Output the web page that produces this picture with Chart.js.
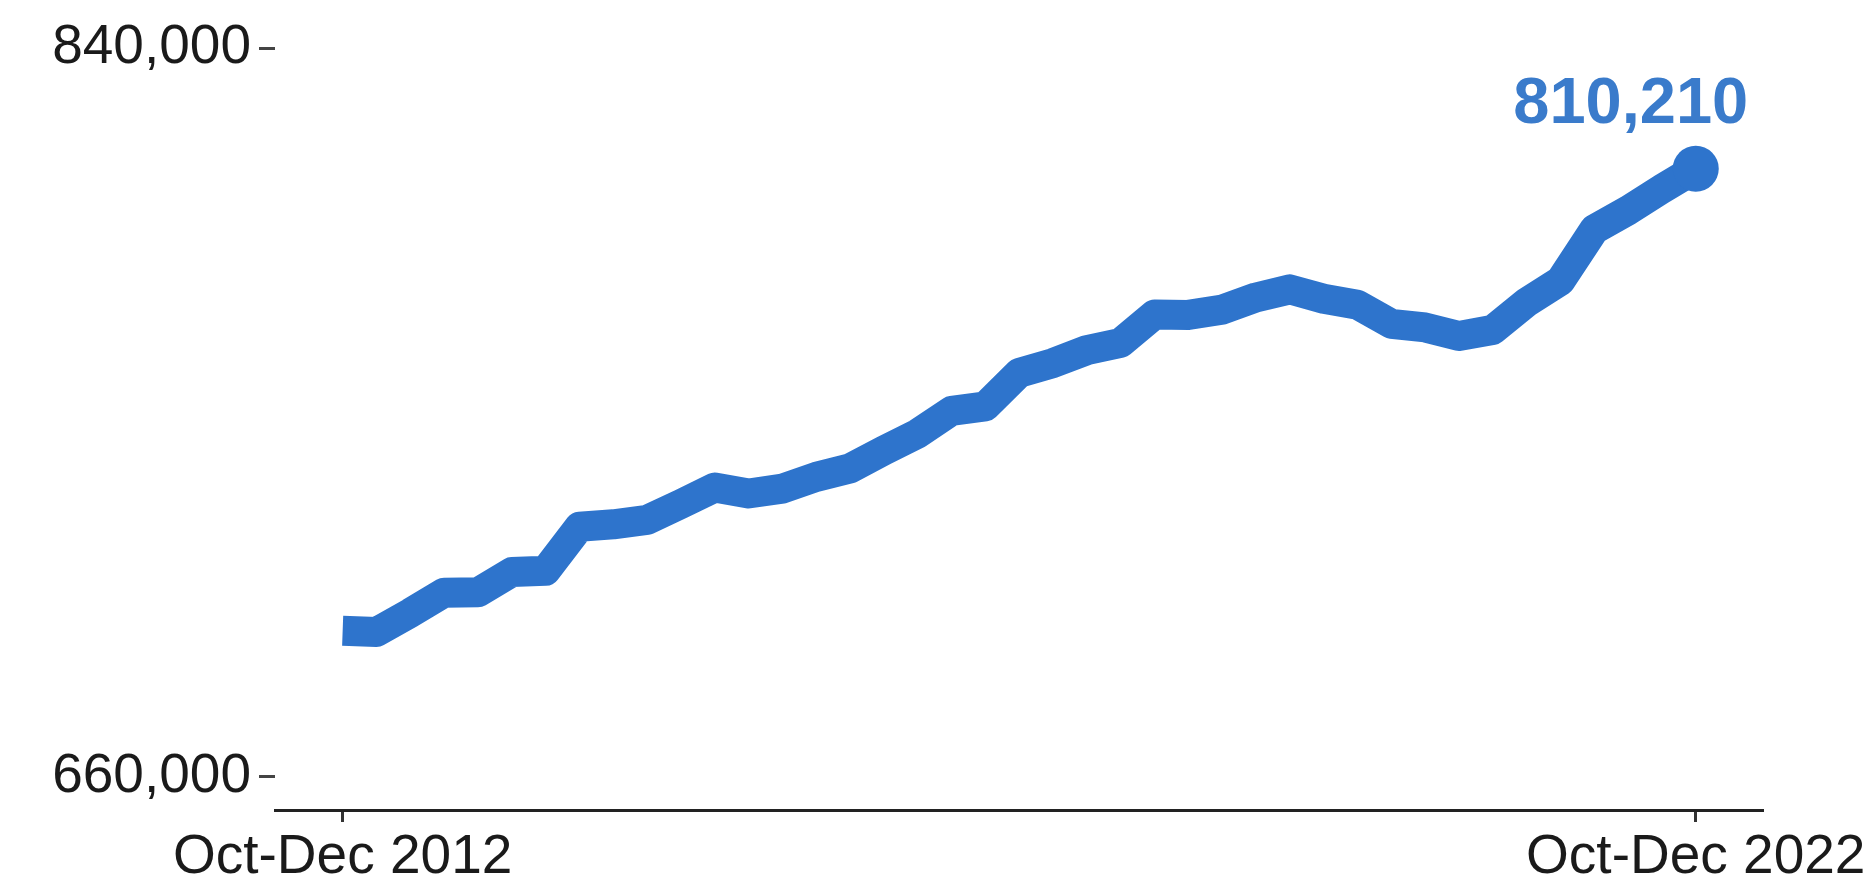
<!DOCTYPE html>
<html>
<head>
<meta charset="utf-8">
<script src="https://cdn.jsdelivr.net/npm/chart.js@4"></script>
<style>
  html, body { margin: 0; padding: 0; background: #fff; }
  #wrap { width: 1873px; height: 887px; position: relative; }
</style>
</head>
<body>
<div id="wrap"><canvas id="lineChart"></canvas></div>
<script>
const quarters = [
  'Oct-Dec 2012',
  'Jan-Mar 2013', 'Apr-Jun 2013', 'Jul-Sep 2013', 'Oct-Dec 2013',
  'Jan-Mar 2014', 'Apr-Jun 2014', 'Jul-Sep 2014', 'Oct-Dec 2014',
  'Jan-Mar 2015', 'Apr-Jun 2015', 'Jul-Sep 2015', 'Oct-Dec 2015',
  'Jan-Mar 2016', 'Apr-Jun 2016', 'Jul-Sep 2016', 'Oct-Dec 2016',
  'Jan-Mar 2017', 'Apr-Jun 2017', 'Jul-Sep 2017', 'Oct-Dec 2017',
  'Jan-Mar 2018', 'Apr-Jun 2018', 'Jul-Sep 2018', 'Oct-Dec 2018',
  'Jan-Mar 2019', 'Apr-Jun 2019', 'Jul-Sep 2019', 'Oct-Dec 2019',
  'Jan-Mar 2020', 'Apr-Jun 2020', 'Jul-Sep 2020', 'Oct-Dec 2020',
  'Jan-Mar 2021', 'Apr-Jun 2021', 'Jul-Sep 2021', 'Oct-Dec 2021',
  'Jan-Mar 2022', 'Apr-Jun 2022', 'Jul-Sep 2022', 'Oct-Dec 2022'
]

const values = [
  696100, 695800, 700500, 705500, 705600, 710600, 710900, 721800, 722400,
  723500, 727400, 731500, 730000, 731200, 734100, 736200, 740600, 744800,
  750400, 751500, 759800, 762200, 765400, 767200, 774200, 774100, 775400,
  778400, 780400, 778100, 776600, 771900, 771000, 768900, 770400, 777200,
  782500, 795200, 799900, 805200, 810210
]

const tickIndexes = [0, 40]
const yTicks = [660000, 840000]

const blue = '#2E74CC'
const last = values.length - 1

const endLabel = {
  id: 'endLabel',
  afterDatasetsDraw(chart) {
    const x = chart.scales.x.getPixelForValue(last)
    const y = chart.scales.y.getPixelForValue(values[last])
    const ctx = chart.ctx
    ctx.save()
    ctx.fillStyle = '#3A7BCB'
    ctx.font = 'bold 65px "Liberation Sans", Arial, sans-serif'
    ctx.textAlign = 'center'
    ctx.textBaseline = 'alphabetic'
    ctx.fillText(values[last].toLocaleString('en-US'), x - 65, y - 46)
    ctx.restore()
  }
}

new Chart(document.getElementById('lineChart'), {
  type: 'line',
  data: {
    datasets: [{
      data: values.map((v, i) => ({ x: i, y: v })),
      borderColor: blue,
      backgroundColor: blue,
      borderWidth: 30,
      borderJoinStyle: 'round',
      borderCapStyle: 'butt',
      tension: 0,
      pointRadius: ctx => ctx.dataIndex === last ? 23 : 0,
      pointHoverRadius: ctx => ctx.dataIndex === last ? 23 : 0,
      pointBorderWidth: 0,
      pointBackgroundColor: blue
    }]
  },
  options: {
    responsive: true,
    maintainAspectRatio: false,
    animation: false,
    devicePixelRatio: 1,
    layout: { padding: { top: 48, right: 101, bottom: 0, left: 0 } },
    plugins: { legend: { display: false }, tooltip: { enabled: false } },
    scales: {
      x: {
        type: 'linear',
        min: -2,
        max: 42,
        afterBuildTicks: scale => { scale.ticks = tickIndexes.map(v => ({ value: v })) },
        afterFit: scale => { scale.height = 77 },
        ticks: {
          autoSkip: false,
          maxRotation: 0,
          padding: 3,
          color: '#1a1a1a',
          font: { family: '"Liberation Sans", Arial, sans-serif', size: 55 },
          callback: value => quarters[value]
        },
        grid: {
          drawOnChartArea: false,
          tickLength: 12,
          tickColor: '#333',
          tickWidth: 3
        },
        border: { display: true, color: '#222', width: 3 }
      },
      y: {
        min: 651850,
        max: 840000,
        afterBuildTicks: scale => { scale.ticks = yTicks.map(v => ({ value: v })) },
        afterFit: scale => { scale.width = 275 },
        ticks: {
          padding: 8,
          color: '#1a1a1a',
          font: { family: '"Liberation Sans", Arial, sans-serif', size: 55 },
          callback: value => value.toLocaleString('en-US')
        },
        grid: {
          drawOnChartArea: false,
          tickLength: 16,
          tickColor: '#444',
          tickWidth: 3
        },
        border: { display: false }
      }
    }
  },
  plugins: [endLabel]
})
</script>
</body>
</html>
